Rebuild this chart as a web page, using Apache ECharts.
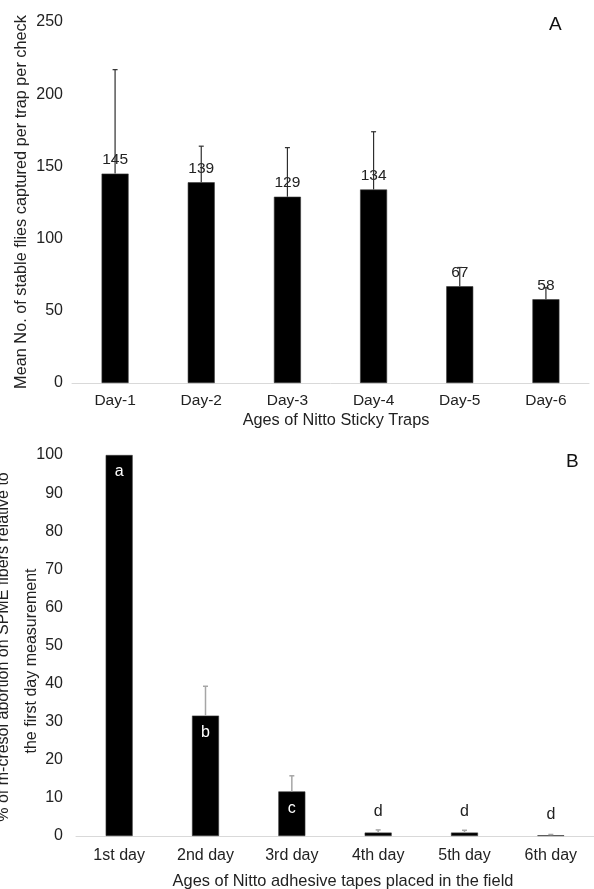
<!DOCTYPE html>
<html>
<head>
<meta charset="utf-8">
<script src="https://cdn.jsdelivr.net/npm/echarts@6/dist/echarts.min.js"></script>
<style>
html,body{margin:0;padding:0;background:#fff;}
#chart{width:594px;height:889px;}
</style>
</head>
<body>
<div id="chart"></div>
<script>
// ---- Panel A data ----
const categoriesA = ['Day-1', 'Day-2', 'Day-3', 'Day-4', 'Day-5', 'Day-6'];
const meansA = [145, 139, 129, 134, 67, 58];
const errA = [72, 25, 34, 40, 13, 8];
const yMaxA = 250;
const yStepA = 50;

// ---- Panel B data ----
const categoriesB = ['1st day', '2nd day', '3rd day', '4th day', '5th day', '6th day'];
const meansB = [100, 31.6, 11.7, 0.9, 0.9, 0.2];
const errB = [0, 7.7, 4.1, 0.7, 0.6, 0.2];
const lettersB = ['a', 'b', 'c', 'd', 'd', 'd'];
const yMaxB = 100;
const yStepB = 10;

// ---- Text ----
const yTitleA = 'Mean No. of stable flies captured per trap per check';
const xTitleA = 'Ages of Nitto Sticky Traps';
const yTitleB1 = '% of m-cresol abortion on SPME fibers relative to';
const yTitleB2 = 'the first day measurement';
const xTitleB = 'Ages of Nitto adhesive tapes placed in the field';

const FONT = 'Liberation Sans, Arial, sans-serif';
const TXT = '#222222';

function errRender(color, width) {
  return function (params, api) {
    const x = api.value(0), y = api.value(1), e = api.value(2);
    if (!e) return null;
    const b = api.coord([x, y]);
    const t = api.coord([x, y + e]);
    return {
      type: 'group',
      children: [
        {type: 'line', shape: {x1: b[0], y1: b[1], x2: t[0], y2: t[1]}, style: {stroke: color, lineWidth: width}},
        {type: 'line', shape: {x1: t[0] - 2.5, y1: t[1], x2: t[0] + 2.5, y2: t[1]}, style: {stroke: color, lineWidth: width}}
      ]
    };
  };
}

const chart = echarts.init(document.getElementById('chart'), null, {renderer: 'canvas'});

const catAxis = (idx, cats, margin, fs) => ({
  type: 'category', gridIndex: idx, data: cats,
  axisLine: {lineStyle: {color: '#d9d9d9', width: 1}},
  axisTick: {show: false},
  axisLabel: {color: TXT, fontSize: fs, fontFamily: FONT, margin: margin}
});
const valAxis = (idx, max, step, margin) => ({
  type: 'value', gridIndex: idx, min: 0, max: max, interval: step,
  axisLine: {show: false}, axisTick: {show: false}, splitLine: {show: false},
  axisLabel: {color: TXT, fontSize: 16, fontFamily: FONT, margin: margin}
});

const option = {
  animation: false,
  backgroundColor: '#ffffff',
  grid: [
    {left: 72, top: 22, width: 517, height: 361},
    {left: 76, top: 455, width: 527, height: 381}
  ],
  xAxis: [catAxis(0, categoriesA, 10, 15.5), catAxis(1, categoriesB, 12, 16)],
  yAxis: [valAxis(0, yMaxA, yStepA, 9), valAxis(1, yMaxB, yStepB, 13)],
  series: [
    {
      type: 'bar', xAxisIndex: 0, yAxisIndex: 0, data: meansA, barWidth: 27,
      itemStyle: {color: '#000', borderColor: '#3a3a3a', borderWidth: 0.6},
      label: {show: true, position: 'top', distance: 6, color: TXT, fontSize: 15.5, fontFamily: FONT}
    },
    {
      type: 'custom', xAxisIndex: 0, yAxisIndex: 0, z: 5,
      data: meansA.map((m, i) => [i, m, errA[i]]),
      renderItem: errRender('#2e2e2e', 1.2)
    },
    {
      type: 'bar', xAxisIndex: 1, yAxisIndex: 1, barWidth: 27,
      itemStyle: {color: '#000', borderColor: '#3a3a3a', borderWidth: 0.6},
      data: meansB.map((m, i) => ({
        value: m,
        label: m > 5
          ? {show: true, position: 'insideTop', distance: 9, color: '#fff', formatter: lettersB[i]}
          : {show: true, position: 'top', distance: 13, color: TXT, formatter: lettersB[i]}
      })),
      label: {fontSize: 16, fontFamily: FONT}
    },
    {
      type: 'custom', xAxisIndex: 1, yAxisIndex: 1, z: 5,
      data: meansB.map((m, i) => [i, m, errB[i]]),
      renderItem: errRender('#a6a6a6', 1.5)
    }
  ],
  graphic: [
    {type: 'text', left: 549, top: 15, style: {text: 'A', fontSize: 19, fontFamily: FONT, fill: '#111'}},
    {type: 'text', left: 566, top: 452, style: {text: 'B', fontSize: 19, fontFamily: FONT, fill: '#111'}},
    {type: 'text', x: 22, y: 202, rotation: Math.PI / 2,
      style: {text: yTitleA, fontSize: 16.3, fontFamily: FONT, fill: TXT, align: 'center', verticalAlign: 'middle'}},
    {type: 'text', x: 336, y: 421,
      style: {text: xTitleA, fontSize: 16.3, fontFamily: FONT, fill: TXT, align: 'center', verticalAlign: 'middle'}},
    {type: 'text', x: 4, y: 647, rotation: Math.PI / 2,
      style: {text: yTitleB1, fontSize: 16, fontFamily: FONT, fill: TXT, align: 'center', verticalAlign: 'middle'}},
    {type: 'text', x: 32, y: 661, rotation: Math.PI / 2,
      style: {text: yTitleB2, fontSize: 16, fontFamily: FONT, fill: TXT, align: 'center', verticalAlign: 'middle'}},
    {type: 'text', x: 343, y: 881,
      style: {text: xTitleB, fontSize: 16.4, fontFamily: FONT, fill: TXT, align: 'center', verticalAlign: 'middle'}}
  ]
};
chart.setOption(option);
</script>
</body>
</html>
